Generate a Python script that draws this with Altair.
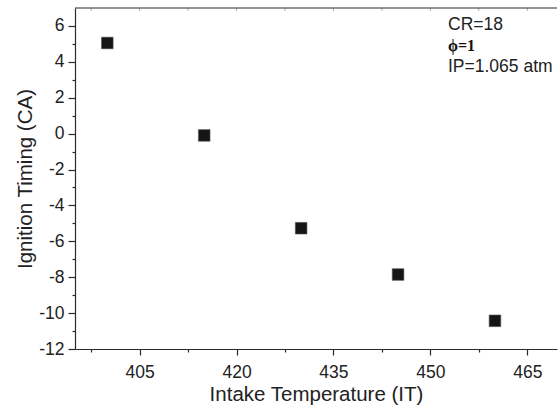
import altair as alt
import pandas as pd

# data
intake_temp = [400, 415, 430, 445, 460]
ignition_timing = [5.05, -0.1, -5.27, -7.85, -10.43]
x_tick_values = [397.5, 405, 412.5, 420, 427.5, 435, 442.5, 450, 457.5, 465]
y_tick_values = list(range(-12, 7))
annot_lines = ["CR=18", "ϕ=1", "IP=1.065 atm"]

df = pd.DataFrame({"IT": intake_temp, "CA": ignition_timing})
ticks_df = pd.DataFrame({"IT": x_tick_values})

W, H = 482, 341
AX = "#2a2a2a"
TXT = "#222222"
FONT = "Liberation Sans"

xscale = alt.Scale(domain=[395, 469.6], nice=False, zero=False)
yscale = alt.Scale(domain=[-12, 7], nice=False, zero=False)

x_axis = alt.Axis(
    values=x_tick_values,
    title="Intake Temperature (IT)",
    labelExpr="datum.value % 15 == 0 ? toString(datum.value) : ''",
    tickSize={"condition": {"test": "datum.value % 15 != 0", "value": 3}, "value": 6},
    labelPadding=8,
    titlePadding=4,
    labelFlush=False,
    labelOverlap=False,
    grid=False,
)
y_axis = alt.Axis(
    values=y_tick_values,
    title="Ignition Timing (CA)",
    labelExpr="datum.value % 2 == 0 ? toString(datum.value) : ''",
    tickSize={"condition": {"test": "datum.value % 2 != 0", "value": 3}, "value": 7},
    labelPadding=4,
    titlePadding=3,
    labelFlush=False,
    labelOverlap=False,
    grid=False,
)

points = alt.Chart(df).mark_square(
    size=135, filled=True, color="#151515", stroke="#555555", strokeWidth=0.6, opacity=1
).encode(
    x=alt.X("IT:Q", scale=xscale, axis=x_axis),
    y=alt.Y("CA:Q", scale=yscale, axis=y_axis),
)

top_line = alt.Chart(pd.DataFrame({"a": [0]})).mark_rule(color=AX, strokeWidth=1.2).encode(
    x=alt.value(0), x2=alt.value(W), y=alt.value(0)
)

top_ticks = alt.Chart(ticks_df).mark_rule(color="#b0b0b0", strokeWidth=1).encode(
    x=alt.X("IT:Q", scale=xscale, axis=x_axis),
    y=alt.value(0),
    y2=alt.value(3),
)

ann_x = 373
t1 = alt.Chart(pd.DataFrame({"t": [annot_lines[0]]})).mark_text(
    align="left", baseline="alphabetic", font=FONT, fontSize=17.5, color=TXT
).encode(x=alt.value(ann_x), y=alt.value(22), text="t:N")
t2 = alt.Chart(pd.DataFrame({"t": [annot_lines[1]]})).mark_text(
    align="left", baseline="alphabetic", font="Liberation Serif", fontSize=16,
    fontWeight="bold", color="#111111"
).encode(x=alt.value(ann_x), y=alt.value(43), text="t:N")
t3 = alt.Chart(pd.DataFrame({"t": [annot_lines[2]]})).mark_text(
    align="left", baseline="alphabetic", font=FONT, fontSize=17.5, color=TXT
).encode(x=alt.value(ann_x), y=alt.value(64), text="t:N")

chart = alt.layer(points, top_ticks, top_line, t1, t2, t3).properties(
    width=W,
    height=H,
    autosize=alt.AutoSizeParams(type="none"),
    padding={"left": 75, "top": 8, "right": 1, "bottom": 60},
    background="white",
).configure_view(stroke=None).configure_axis(
    domainColor=AX,
    domainWidth=1.2,
    tickColor=AX,
    tickWidth=1.2,
    labelFont=FONT,
    labelFontSize=17.5,
    labelColor=TXT,
    titleFont=FONT,
    titleFontSize=20.5,
    titleFontWeight="normal",
    titleColor=TXT,
)

chart.save("out.html", embed_options={"renderer": "svg", "actions": False})
